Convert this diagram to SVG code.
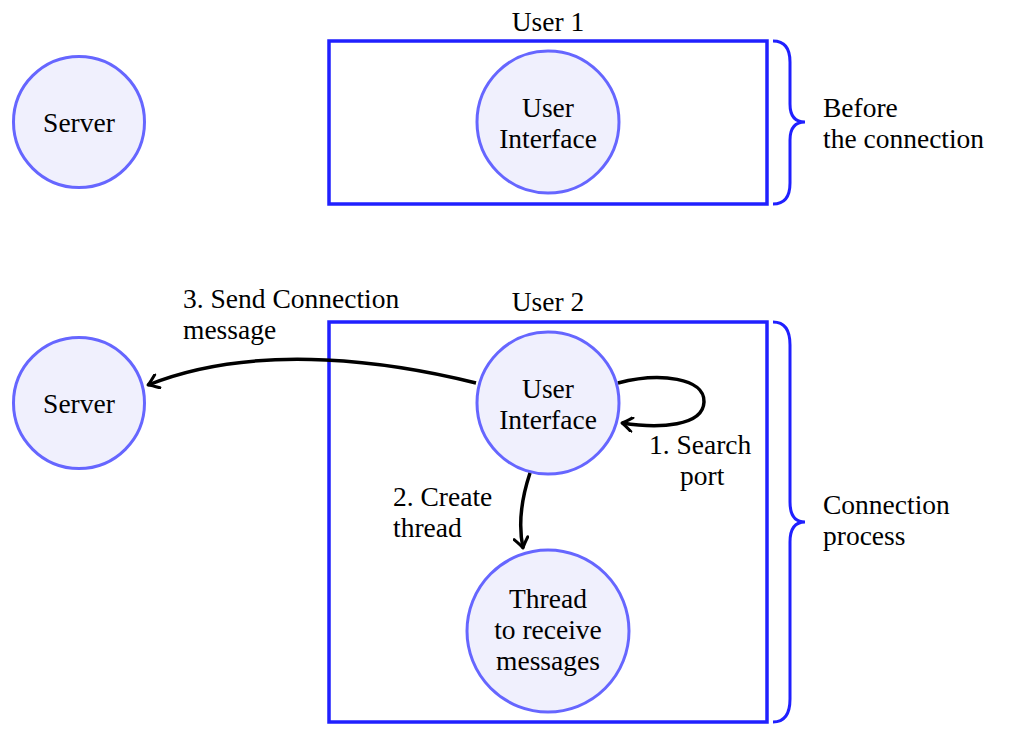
<svg xmlns="http://www.w3.org/2000/svg" width="1011" height="745" viewBox="0 0 1011 745">
<defs>
<style>
.t{font-family:'Liberation Serif','Times New Roman','DejaVu Serif',serif;font-size:27.5px;fill:#000}
.c{text-anchor:middle}
.node{fill:#f0f0fd;stroke:#6666ff;stroke-width:3}
.box{fill:none;stroke:#2020ff;stroke-width:3.5}
.brace{fill:none;stroke:#2020ff;stroke-width:3}
.edge{fill:none;stroke:#000;stroke-width:3.5;marker-end:url(#arr)}
</style>
<marker id="arr" viewBox="-12 -8 14 16" markerWidth="14" markerHeight="16" refX="0" refY="0" orient="auto" markerUnits="userSpaceOnUse">
<path d="M-10,-7 Q-3,-1.5 0,0 Q-3,1.5 -10,7" fill="none" stroke="#000" stroke-width="3" stroke-linecap="round" stroke-linejoin="round"/>
</marker>
</defs>
<g font-family="Liberation Serif, DejaVu Serif, serif">
<g id="user1-box">
<rect class="box" x="329" y="41" width="438" height="163"/>
<text class="t c" x="548" y="31">User 1</text>
</g>
<g id="user2-box">
<rect class="box" x="329" y="322" width="438" height="400"/>
<text class="t c" x="548" y="311">User 2</text>
</g>
<g id="server1">
<circle class="node" cx="79" cy="122" r="65.5"/>
<text class="t c" x="79" y="132">Server</text>
</g>
<g id="ui1">
<circle class="node" cx="548" cy="122" r="71"/>
<text class="t c" x="548" y="117">User</text>
<text class="t c" x="548" y="148">Interface</text>
</g>
<g id="server2">
<circle class="node" cx="79" cy="403" r="65.5"/>
<text class="t c" x="79" y="413">Server</text>
</g>
<g id="ui2">
<circle class="node" cx="548" cy="403" r="71"/>
<text class="t c" x="548" y="398">User</text>
<text class="t c" x="548" y="429">Interface</text>
</g>
<g id="thread">
<circle class="node" cx="548" cy="631" r="81"/>
<text class="t c" x="548" y="608">Thread</text>
<text class="t c" x="548" y="639">to receive</text>
<text class="t c" x="548" y="670">messages</text>
</g>
<g id="brace1">
<path class="brace" d="M773,41 Q790,41 790,62 L790,104 Q790,122 805,122 Q790,122 790,140 L790,183 Q790,204 773,204"/>
<text class="t" x="823" y="117">Before</text>
<text class="t" x="823" y="148">the connection</text>
</g>
<g id="brace2">
<path class="brace" d="M773,322 Q790,322 790,345 L790,502 Q790,522 805,522 Q790,522 790,542 L790,699 Q790,722 773,722"/>
<text class="t" x="823" y="514">Connection</text>
<text class="t" x="823" y="545">process</text>
</g>
<g id="connectors">
<path class="edge" d="M476,383 C400,364 260,340 148,385"/>
<path class="edge" d="M618,383 C660,372 705,378 704,402 C703,426 660,429 622,423"/>
<path class="edge" d="M530,473 C521,500 518,524 523,548"/>
<text class="t" x="183" y="308">3. Send Connection</text>
<text class="t" x="183" y="339">message</text>
<text class="t" x="393" y="506">2. Create</text>
<text class="t" x="393" y="537">thread</text>
<text class="t" x="649" y="454">1. Search</text>
<text class="t" x="680" y="485">port</text>
</g>
</g>
</svg>
